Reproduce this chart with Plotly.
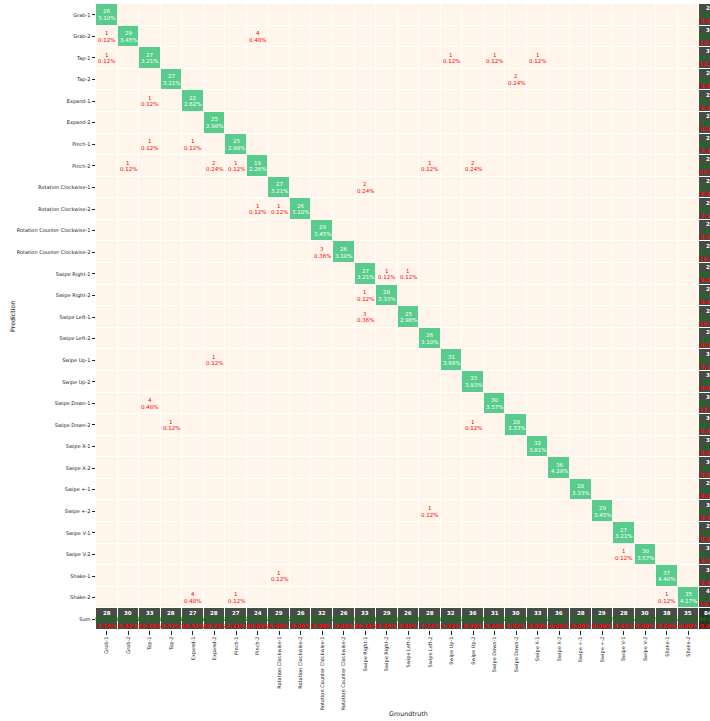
import plotly.graph_objects as go

categories = ["Grab-1", "Grab-2", "Tap-1", "Tap-2", "Expand-1", "Expand-2", "Pinch-1", "Pinch-2",
              "Rotation Clockwise-1", "Rotation Clockwise-2",
              "Rotation Counter Clockwise-1", "Rotation Counter Clockwise-2",
              "Swipe Right-1", "Swipe Right-2", "Swipe Left-1", "Swipe Left-2",
              "Swipe Up-1", "Swipe Up-2", "Swipe Down-1", "Swipe Down-2",
              "Swipe X-1", "Swipe X-2", "Swipe +-1", "Swipe +-2", "Swipe V-1", "Swipe V-2",
              "Shake-1", "Shake-2"]
sum_label = "Sum"
diagonal_counts = [26, 29, 27, 27, 22, 25, 25, 19, 27, 26, 29, 26, 27, 28,
                   25, 26, 31, 33, 30, 28, 32, 36, 28, 29, 27, 30, 37, 35]
# (prediction, groundtruth, count)
off_diagonal = [
    ("Grab-2", "Grab-1", 1), ("Grab-2", "Pinch-2", 4),
    ("Tap-1", "Grab-1", 1), ("Tap-1", "Swipe Up-1", 1), ("Tap-1", "Swipe Down-1", 1), ("Tap-1", "Swipe X-1", 1),
    ("Tap-2", "Swipe Down-2", 2),
    ("Expand-1", "Tap-1", 1),
    ("Pinch-1", "Tap-1", 1), ("Pinch-1", "Expand-1", 1),
    ("Pinch-2", "Grab-2", 1), ("Pinch-2", "Expand-2", 2), ("Pinch-2", "Pinch-1", 1),
    ("Pinch-2", "Swipe Left-2", 1), ("Pinch-2", "Swipe Up-2", 2),
    ("Rotation Clockwise-1", "Swipe Right-1", 2),
    ("Rotation Clockwise-2", "Pinch-2", 1), ("Rotation Clockwise-2", "Rotation Clockwise-1", 1),
    ("Rotation Counter Clockwise-2", "Rotation Counter Clockwise-1", 3),
    ("Swipe Right-1", "Swipe Right-2", 1), ("Swipe Right-1", "Swipe Left-1", 1),
    ("Swipe Right-2", "Swipe Right-1", 1),
    ("Swipe Left-1", "Swipe Right-1", 3),
    ("Swipe Up-1", "Expand-2", 1),
    ("Swipe Down-1", "Tap-1", 4),
    ("Swipe Down-2", "Tap-2", 1), ("Swipe Down-2", "Swipe Up-2", 1),
    ("Swipe +-2", "Swipe Left-2", 1),
    ("Swipe V-2", "Swipe V-1", 1),
    ("Shake-1", "Rotation Clockwise-1", 1),
    ("Shake-2", "Expand-1", 4), ("Shake-2", "Pinch-1", 1), ("Shake-2", "Shake-1", 1),
]

n = len(categories)
idx = {c: i for i, c in enumerate(categories)}
M = [[0] * n for _ in range(n)]
for i, v in enumerate(diagonal_counts):
    M[i][i] = v
for p, g, v in off_diagonal:
    M[idx[p]][idx[g]] = v
total = sum(sum(r) for r in M)
row_sums = [sum(r) for r in M]
col_sums = [sum(M[i][j] for i in range(n)) for j in range(n)]

labels = categories + [sum_label]
N = n + 1
# cell class: 0 off-diagonal, 1 diagonal, 2 sum, 3 grand total
z = []
for i in range(N):
    row = []
    for j in range(N):
        if i == n and j == n:
            row.append(3)
        elif i == n or j == n:
            row.append(2)
        elif i == j:
            row.append(1)
        else:
            row.append(0)
    z.append(row)

C_OFF = "#fff5eb"
C_DIAG = "rgb(89,204,140)"
C_SUM = "rgb(69,77,69)"
C_TOT = "rgb(43,51,43)"

fig = go.Figure(go.Heatmap(
    z=z, x=list(range(N)), y=list(range(N)),
    colorscale=[[0, C_OFF], [1 / 3, C_DIAG], [2 / 3, C_SUM], [1, C_TOT]],
    zmin=0, zmax=3, showscale=False, xgap=1, ygap=1, hoverinfo="skip"))

FONT = "DejaVu Sans"
FS = 5.5
TFS = 5.0
ann = []


def add(x, y, text, color, shift, bold=False):
    t = f"<b>{text}</b>" if bold else text
    ann.append(dict(x=x, y=y, xref="x", yref="y", text=t, showarrow=False,
                    yshift=shift, font=dict(family=FONT, size=FS, color=color)))


def pct_ok(v):
    return "100%" if abs(v - 100) < 1e-9 else f"{v:.2f}%"


for i in range(n):
    for j in range(n):
        v = M[i][j]
        if v == 0:
            continue
        pc = v / total * 100
        col = "white" if i == j else "red"
        add(j, i, str(v), col, 3.3)
        add(j, i, f"{pc:.2f}%", col, -3.3)

# bottom sum row (per groundtruth)
for j in range(n):
    ok = M[j][j] / col_sums[j] * 100 if col_sums[j] else 0
    add(j, n, str(col_sums[j]), "white", 6.5, True)
    add(j, n, pct_ok(ok), "#008000", 0, True)
    add(j, n, f"{100 - ok:.2f}%", "red", -6.5, True)
# right sum column (per prediction)
for i in range(n):
    ok = M[i][i] / row_sums[i] * 100 if row_sums[i] else 0
    add(n, i, str(row_sums[i]), "white", 6.5, True)
    add(n, i, pct_ok(ok), "#008000", 0, True)
    add(n, i, f"{100 - ok:.2f}%", "red", -6.5, True)
acc = sum(M[i][i] for i in range(n)) / total * 100
add(n, n, str(total), "white", 6.5, True)
add(n, n, pct_ok(acc), "#008000", 0, True)
add(n, n, f"{100 - acc:.2f}%", "red", -6.5, True)

ann.append(dict(x=(n) / 2, y=-0.134, xref="x", yref="paper", text="Groundtruth",
                showarrow=False, font=dict(family=FONT, size=6.3, color="#222"),
                xanchor="center", yanchor="middle"))
ann.append(dict(x=-0.1368, y=0.5, xref="paper", yref="paper", text="Prediction",
                showarrow=False, textangle=-90, font=dict(family=FONT, size=6.3, color="#222"),
                xanchor="center", yanchor="middle"))

fig.update_layout(
    width=710, height=721,
    margin=dict(l=96, r=0, t=4, b=91, pad=0),
    paper_bgcolor="white", plot_bgcolor="white",
    annotations=ann, showlegend=False,
    font=dict(family=FONT, size=FS, color="#222"),
)
fig.update_xaxes(range=[-0.5, 28.0], tickmode="array", tickvals=list(range(N)), ticktext=labels,
                 tickangle=-90, ticks="outside", ticklen=3.5, tickwidth=1, tickcolor="#222",
                 showgrid=False, zeroline=False, showline=False,
                 tickfont=dict(family=FONT, size=TFS, color="#222"))
fig.update_yaxes(range=[N - 0.5, -0.5], tickmode="array", tickvals=list(range(N)), ticktext=labels,
                 ticks="outside", ticklen=3.5, tickwidth=1, tickcolor="#222",
                 showgrid=False, zeroline=False, showline=False,
                 tickfont=dict(family=FONT, size=TFS, color="#222"))

fig.write_html("out.html", config={"displayModeBar": False},
               post_script="document.body.style.margin='0';document.body.style.overflow='hidden';")
